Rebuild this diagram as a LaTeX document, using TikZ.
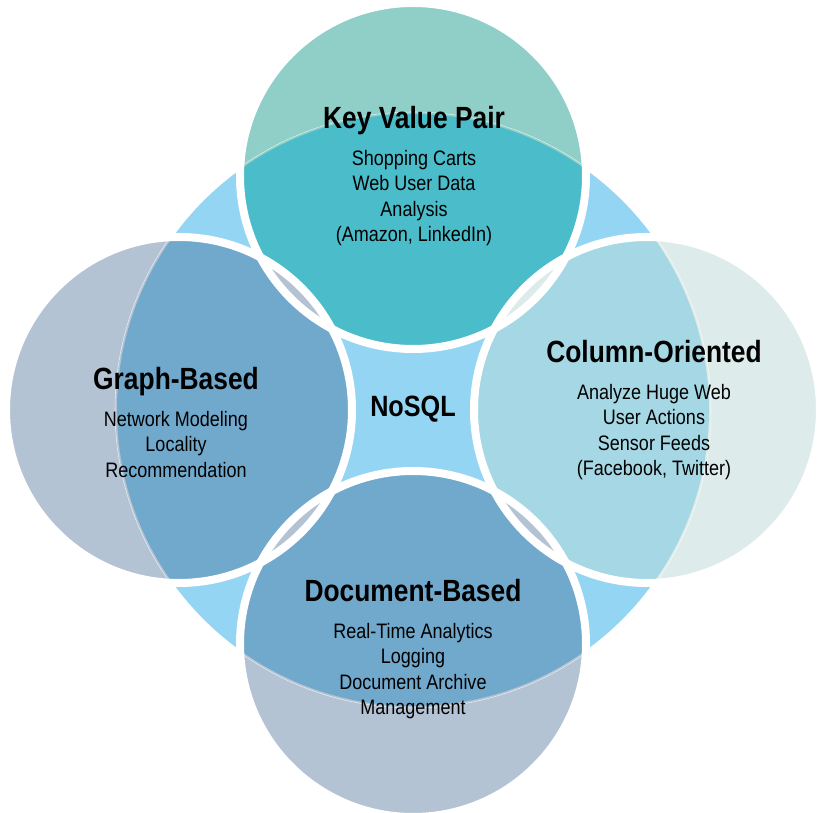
\documentclass[tikz,border=0pt]{standalone}
\usepackage{fontspec}
\setmainfont{Liberation Sans}[FakeStretch=0.86]
\usetikzlibrary{positioning}
\definecolor{hubblue}{HTML}{94D5F4}
\definecolor{kvlight}{HTML}{8FCFC8}
\definecolor{kvdark}{HTML}{4BBCCA}
\definecolor{collight}{HTML}{DDECEA}
\definecolor{coldark}{HTML}{A5D8E4}
\definecolor{grlight}{HTML}{B4C3D3}
\definecolor{grdark}{HTML}{71A9CD}
\tikzstyle{diagram}=[x=0.75pt, y=0.75pt, node distance=10.5pt]
\tikzstyle{heading}=[inner sep=0pt, text depth=5pt, font=\bfseries\fontsize{23}{27}\selectfont]
\tikzstyle{items}=[inner sep=0pt, align=center, font=\fontsize{15.7}{19}\selectfont]
\tikzstyle{rim}=[draw=white, line width=6pt]
\tikzstyle{seam}=[draw=white, line width=0.4pt, opacity=0.7]

\begin{document}
\begin{tikzpicture}[diagram]
  \useasboundingbox (0,0) rectangle (817,813);
  \coordinate (hub) at (413,403);
  \coordinate (kv) at (413,637);
  \coordinate (col) at (647,403);
  \coordinate (graph) at (179,403);
  \coordinate (doc) at (413,169);

  % big circle behind everything
  \fill[hubblue] (hub) circle (296);

  % the four circles, dark where they meet the big one
  \fill[kvlight] (kv) circle (173);
  \begin{scope}
    \clip (kv) circle (173);
    \fill[kvdark] (hub) circle (296);
    \draw[seam] (hub) circle (298);
  \end{scope}
  \fill[collight] (col) circle (173);
  \begin{scope}
    \clip (col) circle (173);
    \fill[coldark] (hub) circle (296);
    \draw[seam] (hub) circle (298);
  \end{scope}
  \fill[grlight] (graph) circle (173);
  \begin{scope}
    \clip (graph) circle (173);
    \fill[grdark] (hub) circle (296);
    \draw[seam] (hub) circle (298);
  \end{scope}
  \fill[grlight] (doc) circle (173);
  \begin{scope}
    \clip (doc) circle (173);
    \fill[grdark] (hub) circle (296);
    \draw[seam] (hub) circle (298);
  \end{scope}

  % small overlaps
  \begin{scope}
    \clip (kv) circle (173);
    \fill[grlight] (graph) circle (173);
    \fill[collight] (col) circle (173);
  \end{scope}
  \begin{scope}
    \clip (doc) circle (173);
    \fill[grlight] (graph) circle (173);
    \fill[grlight] (col) circle (173);
  \end{scope}

  \draw[rim] (kv) circle (173);
  \draw[rim] (col) circle (173);
  \draw[rim] (graph) circle (173);
  \draw[rim] (doc) circle (173);

  \node[heading, anchor=base] (kvhead) at (414,684) {Key Value Pair};
  \node[items] (kvlist) [below=of kvhead] {Shopping Carts\\Web User Data\\Analysis\\(Amazon, LinkedIn)};
  \node[heading, anchor=base] (colhead) at (654,450) {Column-Oriented};
  \node[items] (collist) [below=of colhead] {Analyze Huge Web\\User Actions\\Sensor Feeds\\(Facebook, Twitter)};
  \node[heading, anchor=base] (graphhead) at (176,423) {Graph-Based};
  \node[items] (graphlist) [below=of graphhead] {Network Modeling\\Locality\\Recommendation};
  \node[heading, anchor=base] (dochead) at (413,211) {Document-Based};
  \node[items] (doclist) [below=of dochead] {Real-Time Analytics\\Logging\\Document Archive\\Management};
  \node[heading, font=\bfseries\fontsize{22}{26}\selectfont, anchor=base] (nosql) at (413,396) {NoSQL};
\end{tikzpicture}
\end{document}
